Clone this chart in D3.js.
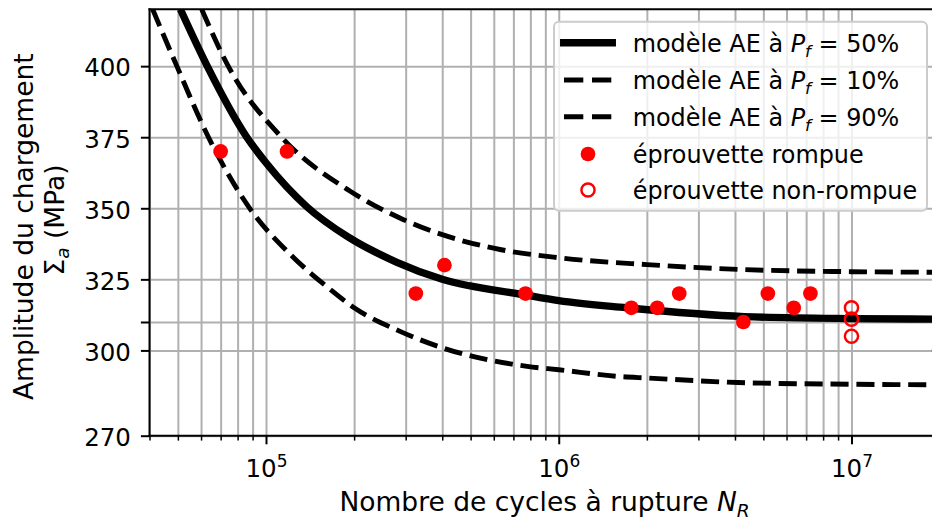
<!DOCTYPE html>
<html>
<head>
<meta charset="utf-8">
<script src="https://cdn.jsdelivr.net/npm/d3@7"></script>
<style>
    body { margin: 0; background: #fff; }
    svg { display: block; font-family: "DejaVu Sans", sans-serif; }
    .grid line { stroke: #b0b0b0; stroke-width: 2; }
    .grid .domain { display: none; }
    .axis .domain { display: none; }
    .axis line { stroke: #000; }
    .axis text { fill: #000; font-size: 24.5px; font-family: "DejaVu Sans", sans-serif; }
</style>
</head>
<body>
<div id="chart"></div>
<script>

// ---- data ----
var xMajorTicks = [1e5, 1e6, 1e7];
var xMajorExponents = ["5", "6", "7"];
var xMinorTicks = [4e4, 5e4, 6e4, 7e4, 8e4, 9e4,
    2e5, 3e5, 4e5, 5e5, 6e5, 7e5, 8e5, 9e5,
    2e6, 3e6, 4e6, 5e6, 6e6, 7e6, 8e6, 9e6, 2e7];
var yTicks = [270, 300, 310, 325, 350, 375, 400];
var yTickLabels = ["270", "300", "", "325", "350", "375", "400"];

// model curves (cycles, amplitude MPa)
var model50N = [5.1e4, 6.3e4, 8.6e4, 1.0e5, 1.38e5, 1.9e5, 2.8e5, 4.0e5, 7.7e5, 1.0e6, 1.7e6, 4.3e6, 1.0e7, 2.0e7];
var model50S = [420, 400, 375, 366, 350.5, 340, 331, 325, 319.5, 317.5, 315, 311.9, 311.2, 311];

var model10N = [4.1e4, 4.96e4, 6.36e4, 8.8e4, 1.21e5, 1.66e5, 2.0e5, 2.87e5, 4.04e5, 7.8e5, 1.0e6, 1.62e6, 2.0e6, 4.1e6, 1.0e7, 2.0e7];
var model10S = [420, 400, 375, 350, 333.8, 321.4, 315, 306.7, 300.8, 294.4, 293.2, 290.8, 290.3, 288.7, 288.1, 287.9];

var model90N = [6.03e4, 7.43e4, 1.13e5, 1.94e5, 2.95e5, 4.15e5, 6.3e5, 1.0e6, 2.0e6, 4.1e6, 1.0e7, 2.0e7];
var model90S = [420, 400, 375, 356, 346, 340.2, 335.5, 332.6, 330.2, 328.5, 327.7, 327.5];

// specimens
var brokenN = [7.0e4, 1.18e5, 3.25e5, 4.07e5, 7.7e5, 1.77e6, 2.17e6, 2.58e6, 4.27e6, 5.18e6, 6.35e6, 7.24e6];
var brokenS = [370, 370, 320, 330, 320, 315, 315, 320, 310, 320, 315, 320];
var runoutN = [1e7, 1e7, 1e7, 2e7];
var runoutS = [315, 311, 305, 300];

var legendLabels = ["50%", "10%", "90%"];

function zip(ns, ss) {
    return ns.map(function (n, i) { return {n: n, s: ss[i]}; });
}

// ---- layout ----
var svgWidth = 932, svgHeight = 522;
var plot = {left: 149.5, right: 939.6, top: 9.3, bottom: 435.7};

var svg = d3.select("#chart").append("svg")
    .attr("width", svgWidth)
    .attr("height", svgHeight);

var x = d3.scaleLog().domain([4e4, 2e7]).range([plot.left, plot.right]);
var y = d3.scaleLinear().domain([270, 420]).range([plot.bottom, plot.top]);
var plotH = plot.bottom - plot.top, plotW = plot.right - plot.left;

svg.append("clipPath").attr("id", "plot-clip")
    .append("rect")
    .attr("x", plot.left).attr("y", plot.top)
    .attr("width", plotW).attr("height", plotH);

// gridlines (major + minor on x)
svg.append("g")
    .attr("class", "grid")
    .attr("transform", "translate(0," + plot.bottom + ")")
    .call(d3.axisBottom(x).tickValues(xMajorTicks.concat(xMinorTicks)).tickSize(-plotH).tickFormat(""));

svg.append("g")
    .attr("class", "grid")
    .attr("transform", "translate(" + plot.left + ",0)")
    .call(d3.axisLeft(y).tickValues(yTicks).tickSize(-plotW).tickFormat(""));

// curves
var line = d3.line()
    .x(function (d) { return x(d.n); })
    .y(function (d) { return y(d.s); })
    .curve(d3.curveMonotoneX);

var curves = svg.append("g").attr("clip-path", "url(#plot-clip)");

curves.append("path")
    .datum(zip(model10N, model10S))
    .attr("d", line)
    .attr("fill", "none").attr("stroke", "#000")
    .attr("stroke-width", 4.9).attr("stroke-dasharray", "18.1,7.8");

curves.append("path")
    .datum(zip(model90N, model90S))
    .attr("d", line)
    .attr("fill", "none").attr("stroke", "#000")
    .attr("stroke-width", 4.9).attr("stroke-dasharray", "18.1,7.8");

curves.append("path")
    .datum(zip(model50N, model50S))
    .attr("d", line)
    .attr("fill", "none").attr("stroke", "#000")
    .attr("stroke-width", 7.35);

// specimens
curves.selectAll(".broken")
    .data(zip(brokenN, brokenS))
    .enter().append("circle")
    .attr("class", "broken")
    .attr("cx", function (d) { return x(d.n); })
    .attr("cy", function (d) { return y(d.s); })
    .attr("r", 7.35)
    .attr("fill", "red");

curves.selectAll(".runout")
    .data(zip(runoutN, runoutS))
    .enter().append("circle")
    .attr("class", "runout")
    .attr("cx", function (d) { return x(d.n); })
    .attr("cy", function (d) { return y(d.s); })
    .attr("r", 6.6)
    .attr("fill", "none")
    .attr("stroke", "red")
    .attr("stroke-width", 2.45);

// axes
var xAxisMinor = svg.append("g")
    .attr("class", "axis")
    .attr("transform", "translate(0," + plot.bottom + ")")
    .call(d3.axisBottom(x).tickValues(xMinorTicks).tickSize(4.9).tickFormat(""));
xAxisMinor.selectAll("line").attr("stroke-width", 1.5);

var xAxis = svg.append("g")
    .attr("class", "axis")
    .attr("transform", "translate(0," + plot.bottom + ")")
    .call(d3.axisBottom(x).tickValues(xMajorTicks).tickSize(8.6).tickFormat(""));
xAxis.selectAll("line").attr("stroke-width", 2);

// 10^k labels
xAxis.selectAll(".tick").each(function (d, i) {
    var t = d3.select(this).append("text")
        .attr("y", 41.3)
        .attr("text-anchor", "middle");
    t.append("tspan").text("10");
    t.append("tspan").attr("dy", -10).attr("font-size", "17px").text(xMajorExponents[i]);
});

var yAxis = svg.append("g")
    .attr("class", "axis")
    .attr("transform", "translate(" + plot.left + ",0)")
    .call(d3.axisLeft(y).tickValues(yTicks).tickSize(8.6).tickPadding(10)
        .tickFormat(function (d, i) { return yTickLabels[i]; }));
yAxis.selectAll("line").attr("stroke-width", 2);
yAxis.selectAll("text").attr("dy", "0.4em");

// spines
var spines = svg.append("g").attr("stroke", "#000").attr("stroke-width", 2).attr("stroke-linecap", "square");
spines.append("line").attr("x1", plot.left).attr("x2", plot.left).attr("y1", plot.top).attr("y2", plot.bottom);
spines.append("line").attr("x1", plot.left).attr("x2", plot.right).attr("y1", plot.bottom).attr("y2", plot.bottom);
spines.append("line").attr("x1", plot.left).attr("x2", plot.right).attr("y1", plot.top).attr("y2", plot.top);
spines.append("line").attr("x1", plot.right).attr("x2", plot.right).attr("y1", plot.top).attr("y2", plot.bottom);

// axis labels
var xLabel = svg.append("text")
    .attr("x", (plot.left + plot.right) / 2)
    .attr("y", 511)
    .attr("text-anchor", "middle")
    .attr("font-size", "26.5px");
xLabel.append("tspan").text("Nombre de cycles à rupture ");
xLabel.append("tspan").attr("font-style", "italic").text("N");
xLabel.append("tspan").attr("font-style", "italic").attr("font-size", "18.5px").attr("dy", 5.5).text("R");

var yLabel = svg.append("g").attr("font-size", "26.5px");
yLabel.append("text")
    .attr("transform", "translate(33,226.7) rotate(-90)")
    .attr("text-anchor", "middle")
    .text("Amplitude du chargement");
var yLabel2 = yLabel.append("text")
    .attr("transform", "translate(63.5,220) rotate(-90)")
    .attr("text-anchor", "middle");
yLabel2.append("tspan").text("Σ");
yLabel2.append("tspan").attr("font-style", "italic").attr("font-size", "18.5px").attr("dy", 5.5).text("a");
yLabel2.append("tspan").attr("dy", -5.5).text(" (MPa)");

// legend
var legend = svg.append("g").attr("class", "legend");
legend.append("rect")
    .attr("x", 554).attr("y", 21.7)
    .attr("width", 373).attr("height", 189)
    .attr("rx", 5)
    .attr("fill", "#fff").attr("fill-opacity", 0.8)
    .attr("stroke", "#cccccc").attr("stroke-width", 2);

var rowY = [42.7, 80, 116.7, 154, 190];
var handleX0 = 560, handleX1 = 616, textX = 632.7;
var legendFont = "23.9px";

legendLabels.forEach(function (lab, i) {
    var ly = rowY[i];
    var l = legend.append("line")
        .attr("y1", ly).attr("y2", ly)
        .attr("stroke", "#000");
    if (i === 0) {
        l.attr("x1", handleX0 + 3.7).attr("x2", handleX1 - 3.7)
            .attr("stroke-width", 7.35).attr("stroke-linecap", "square");
    } else {
        l.attr("x1", 564).attr("x2", 612)
            .attr("stroke-width", 4.9).attr("stroke-dasharray", "19.3,8.7");
    }
    var t = legend.append("text")
        .attr("x", textX).attr("y", ly + 8.8)
        .attr("font-size", legendFont);
    t.append("tspan").text("modèle AE à ");
    t.append("tspan").attr("font-style", "italic").text("P");
    t.append("tspan").attr("font-style", "italic").attr("font-size", "16.7px").attr("dy", 5).text("f");
    t.append("tspan").attr("dy", -5).text(" = " + lab);
});

var mx = (handleX0 + handleX1) / 2;
legend.append("circle").attr("cx", mx).attr("cy", rowY[3]).attr("r", 7.35).attr("fill", "red");
legend.append("text").attr("x", textX).attr("y", rowY[3] + 8.8).attr("font-size", legendFont).text("éprouvette rompue");
legend.append("circle").attr("cx", mx).attr("cy", rowY[4]).attr("r", 6.6)
    .attr("fill", "none").attr("stroke", "red").attr("stroke-width", 2.45);
legend.append("text").attr("x", textX).attr("y", rowY[4] + 8.8).attr("font-size", legendFont).text("éprouvette non-rompue");

</script>
</body>
</html>
